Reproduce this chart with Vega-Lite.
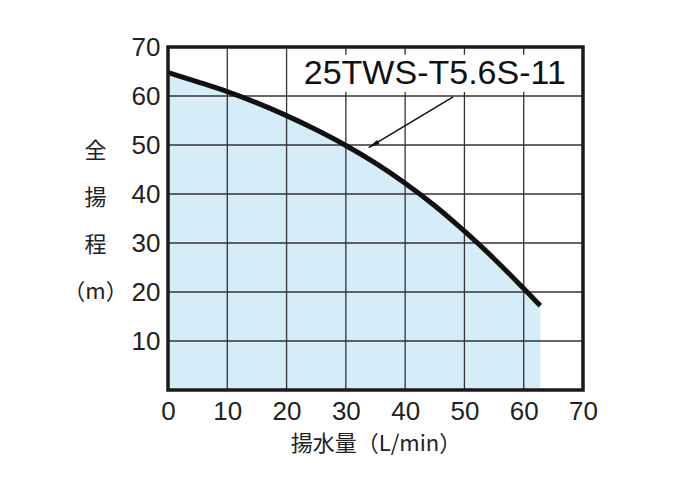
{
  "$schema": "https://vega.github.io/schema/vega-lite/v6.json",
  "width": 415,
  "height": 343,
  "autosize": {"type": "none"},
  "padding": {"left": 168, "top": 47, "right": 117, "bottom": 104},
  "background": "white",
  "config": {
    "view": {"stroke": null},
    "axis": {
      "domain": false, "ticks": false, "grid": false, "labelFlush": false,
      "labelFont": "Liberation Sans", "labelFontSize": 26, "labelColor": "#222",
      "titleFont": "Noto Sans CJK JP", "titleFontSize": 22, "titleFontWeight": "normal", "titleColor": "#222"
    }
  },
  "datasets": {
    "curve": [
      {"q": 0, "h": 64.8},
      {"q": 5, "h": 62.9},
      {"q": 10, "h": 60.9},
      {"q": 15, "h": 58.6},
      {"q": 20, "h": 56.0},
      {"q": 25, "h": 53.1},
      {"q": 30, "h": 49.9},
      {"q": 35, "h": 46.3},
      {"q": 40, "h": 42.2},
      {"q": 45, "h": 37.6},
      {"q": 50, "h": 32.4},
      {"q": 55, "h": 26.8},
      {"q": 60, "h": 20.7},
      {"q": 62.8, "h": 17.2}
    ],
    "grid": [{"v": 10}, {"v": 20}, {"v": 30}, {"v": 40}, {"v": 50}, {"v": 60}],
    "label": [{"x1": 21.8, "x2": 68.2, "y1": 60.8, "y2": 68.4, "x": 45.0, "y": 64.5, "text": "25TWS-T5.6S-11"}],
    "arrow": [{"xa": 48.1, "ya": 59.8, "xb": 33.9, "yb": 49.5, "xh": 34.6, "yh": 50.0}],
    "frame": [{"x1": 0, "x2": 70, "y1": 0, "y2": 70}]
  },
  "layer": [
    {
      "data": {"name": "curve"},
      "mark": {"type": "area", "interpolate": "monotone", "color": "#d5edf9"},
      "encoding": {
        "x": {"field": "q", "type": "quantitative",
          "scale": {"domain": [0, 70], "nice": false},
          "axis": {"values": [0, 10, 20, 30, 40, 50, 60, 70], "labelPadding": 8, "title": "揚水量（L/min）", "titlePadding": 9}},
        "y": {"field": "h", "type": "quantitative",
          "scale": {"domain": [0, 70], "nice": false},
          "axis": {"values": [10, 20, 30, 40, 50, 60, 70], "labelPadding": 8,
            "title": ["全", "揚", "程", "（m）"], "titleAngle": 0, "titleX": -73, "titleY": 103,
            "titleAlign": "center", "titleBaseline": "middle", "titleLineHeight": 47}}
      }
    },
    {
      "data": {"name": "grid"},
      "mark": {"type": "rule", "color": "#333", "strokeWidth": 1.3},
      "encoding": {"x": {"field": "v", "type": "quantitative"}}
    },
    {
      "data": {"name": "grid"},
      "mark": {"type": "rule", "color": "#333", "strokeWidth": 1.3},
      "encoding": {"y": {"field": "v", "type": "quantitative"}}
    },
    {
      "data": {"name": "curve"},
      "mark": {"type": "line", "interpolate": "monotone", "color": "#111", "strokeWidth": 5, "strokeCap": "butt"},
      "encoding": {
        "x": {"field": "q", "type": "quantitative"},
        "y": {"field": "h", "type": "quantitative"}
      }
    },
    {
      "data": {"name": "label"},
      "mark": {"type": "rect", "color": "white"},
      "encoding": {
        "x": {"field": "x1", "type": "quantitative"},
        "x2": {"field": "x2"},
        "y": {"field": "y1", "type": "quantitative"},
        "y2": {"field": "y2"}
      }
    },
    {
      "data": {"name": "label"},
      "mark": {"type": "text", "font": "Liberation Sans", "fontSize": 34, "color": "#111", "align": "center", "baseline": "middle"},
      "encoding": {
        "x": {"field": "x", "type": "quantitative"},
        "y": {"field": "y", "type": "quantitative"},
        "text": {"field": "text"}
      }
    },
    {
      "data": {"name": "arrow"},
      "mark": {"type": "rule", "color": "#111", "strokeWidth": 1.5},
      "encoding": {
        "x": {"field": "xa", "type": "quantitative"},
        "y": {"field": "ya", "type": "quantitative"},
        "x2": {"field": "xb"},
        "y2": {"field": "yb"}
      }
    },
    {
      "data": {"name": "arrow"},
      "mark": {"type": "point", "shape": "M0,-1L0.38,1L-0.38,1Z", "filled": true, "color": "#111", "size": 144, "angle": 239, "opacity": 1},
      "encoding": {
        "x": {"field": "xh", "type": "quantitative"},
        "y": {"field": "yh", "type": "quantitative"}
      }
    },
    {
      "data": {"name": "frame"},
      "mark": {"type": "rect", "fillOpacity": 0, "stroke": "#1a1a1a", "strokeWidth": 3.5},
      "encoding": {
        "x": {"field": "x1", "type": "quantitative"},
        "x2": {"field": "x2"},
        "y": {"field": "y1", "type": "quantitative"},
        "y2": {"field": "y2"}
      }
    }
  ]
}
